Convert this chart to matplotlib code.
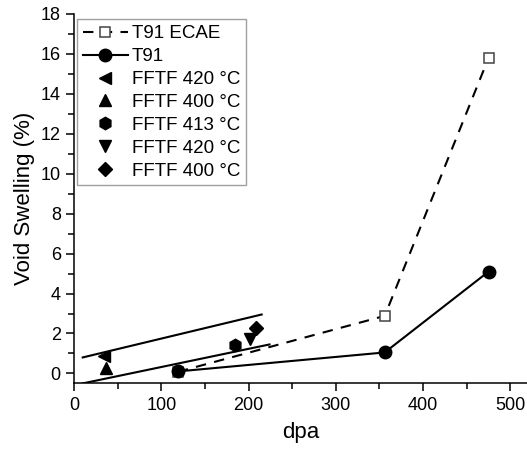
import matplotlib
matplotlib.use('Agg')
import matplotlib.pyplot as plt
from matplotlib.ticker import MultipleLocator

plt.rcParams['font.family'] = ['Liberation Sans', 'DejaVu Sans']

# T91 after ECAE processing
ecae_dpa = [119, 356, 475]
ecae_swell = [0.08, 2.88, 15.8]

# as-received T91
t91_dpa = [119, 356, 475]
t91_swell = [0.1, 1.05, 5.1]

# FFTF reference data
fftf_labels = ['FFTF 420 °C', 'FFTF 400 °C', 'FFTF 413 °C', 'FFTF 420 °C', 'FFTF 400 °C']
fftf_markers = ['<', '^', 'h', 'v', 'D']
fftf_dpa = [34, 37, 184, 202, 208]
fftf_swell = [0.85, 0.25, 1.4, 1.7, 2.25]

# trend bands through the FFTF data
upper_dpa = [10, 215]
upper_swell = [0.8, 2.95]
lower_dpa = [10, 224]
lower_swell = [-0.5, 1.45]

fig = plt.figure(figsize=(5.27, 4.5), dpi=100)
ax = fig.add_axes([0.1404, 0.148, 0.8596, 0.821])

ax.plot(ecae_dpa, ecae_swell, color='black', ls=(0, (5, 4)), lw=1.5,
        marker='s', ms=7.5, mfc='white', mec='#444444', mew=1.1, label='T91 ECAE')
ax.plot(t91_dpa, t91_swell, color='black', lw=1.5, marker='o', ms=9,
        mfc='black', mec='black', label='T91')
for d, s, m, lab in zip(fftf_dpa, fftf_swell, fftf_markers, fftf_labels):
    ms = 7 if m == 'D' else 9
    ax.plot([d], [s], ls='none', marker=m, ms=ms, color='black', label=lab)

ax.plot(upper_dpa, upper_swell, color='black', lw=1.5)
ax.plot(lower_dpa, lower_swell, color='black', lw=1.5)

ax.set_xlim(0, 519)
ax.set_ylim(-0.5, 18)
ax.xaxis.set_major_locator(MultipleLocator(100))
ax.xaxis.set_minor_locator(MultipleLocator(50))
ax.yaxis.set_major_locator(MultipleLocator(2))
ax.yaxis.set_minor_locator(MultipleLocator(1))
ax.tick_params(which='major', direction='out', length=6, width=1.1, labelsize=13)
ax.tick_params(which='minor', direction='out', length=4, width=1.1)
for side in ['top', 'right']:
    ax.spines[side].set_visible(False)
for side in ['left', 'bottom']:
    ax.spines[side].set_linewidth(1.1)

ax.set_xlabel('dpa', fontsize=16, labelpad=6)
ax.set_ylabel('Void Swelling (%)', fontsize=16, labelpad=4)

leg = ax.legend(loc='upper left', bbox_to_anchor=(0.007, 0.985), fontsize=13.5,
                frameon=True, fancybox=False, edgecolor='#888888',
                handlelength=2.4, handletextpad=0.2, labelspacing=0.31,
                borderpad=0.3, borderaxespad=0)
leg.get_frame().set_linewidth(1.0)

fig.savefig('out.png', dpi=100)
